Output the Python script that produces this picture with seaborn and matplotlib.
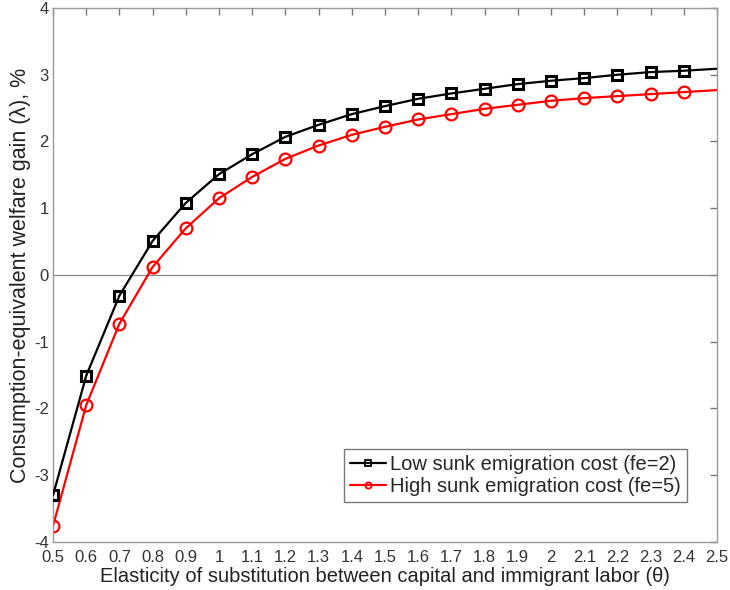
import numpy as np
import pandas as pd
import matplotlib
matplotlib.use("Agg")
import matplotlib.pyplot as plt
import seaborn as sns
from matplotlib.ticker import FormatStrFormatter

# elasticity of substitution (theta) grid
theta = [0.5, 0.6, 0.7, 0.8, 0.9, 1.0, 1.1, 1.2, 1.3, 1.4, 1.5,
         1.6, 1.7, 1.8, 1.9, 2.0, 2.1, 2.2, 2.3, 2.4, 2.5]

# welfare gain, %
gain_low = [-3.30, -1.51, -0.31, 0.51, 1.08, 1.51, 1.81, 2.07, 2.25, 2.41, 2.53,
            2.64, 2.72, 2.79, 2.86, 2.91, 2.95, 3.00, 3.04, 3.06, 3.09]
gain_high = [-3.76, -1.95, -0.73, 0.12, 0.70, 1.15, 1.47, 1.74, 1.94, 2.10, 2.22,
             2.33, 2.41, 2.49, 2.55, 2.61, 2.65, 2.68, 2.71, 2.74, 2.77]

label_low = "Low sunk emigration cost (fe=2)"
label_high = "High sunk emigration cost (fe=5)"

sns.set_style("white")
plt.rcParams["font.family"] = ["Liberation Sans", "DejaVu Sans"]

fig = plt.figure(figsize=(7.3, 5.9), dpi=100)
ax = fig.add_axes([53 / 730, 1 - 542 / 590, 664 / 730, 534 / 590])

ax.axhline(0, color="#888888", lw=0.9, zorder=1)

marks = list(range(len(theta) - 1))  # no marker at the last point
sns.lineplot(x=theta, y=gain_low, ax=ax, color="black", lw=1.6,
             marker="s", markersize=6.5, markerfacecolor="none",
             markeredgecolor="black", markeredgewidth=2.2,
             markevery=marks, label=label_low, zorder=3)
sns.lineplot(x=theta, y=gain_high, ax=ax, color="red", lw=1.6,
             marker="o", markersize=8.5, markerfacecolor="none",
             markeredgecolor="red", markeredgewidth=1.6,
             markevery=marks, label=label_high, zorder=2)

ax.set_xlim(0.5, 2.5)
ax.set_ylim(-4, 4)
ax.set_xticks(np.arange(0.5, 2.501, 0.1))
ax.set_yticks(np.arange(-4, 4.01, 1))
ax.xaxis.set_major_formatter(FormatStrFormatter("%g"))
ax.yaxis.set_major_formatter(FormatStrFormatter("%g"))

for s in ax.spines.values():
    s.set_color("#999999")
    s.set_linewidth(1.0)
ax.tick_params(direction="in", length=5, width=1.0, color="#777777",
               top=True, right=True, labelsize=12, labelcolor="#333333")
ax.tick_params(axis="x", pad=6)
ax.tick_params(axis="y", pad=3)

ax.set_xlabel("Elasticity of substitution between capital and immigrant labor (θ)",
              fontsize=14.5, color="#222222", labelpad=1)
ax.set_ylabel("Consumption-equivalent welfare gain (λ), %",
              fontsize=15.5, color="#222222", labelpad=2)

leg = ax.legend(loc="lower right", bbox_to_anchor=(0.955, 0.075),
                fontsize=14.5, frameon=True, fancybox=False,
                handlelength=1.8, handletextpad=0.2, borderpad=0.3,
                labelspacing=0.15, borderaxespad=0)
leg.get_frame().set_edgecolor("#555555")
leg.get_frame().set_linewidth(1.0)
for h in leg.legend_handles:
    h.set_markersize(4.5)
    h.set_markeredgewidth(1.3)

fig.savefig("out.png", dpi=100)
